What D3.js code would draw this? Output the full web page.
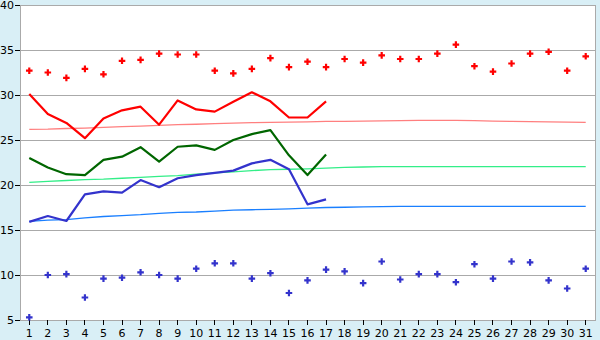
<!DOCTYPE html>
<html><head><meta charset="utf-8">
<script src="https://cdn.jsdelivr.net/npm/d3@7"></script>
<style>
html,body{margin:0;padding:0;background:#d9eff6;}
svg{display:block;font-family:"DejaVu Sans",sans-serif;}
</style></head>
<body>
<svg id="c" width="600" height="340"></svg>
<script>
const days = d3.range(1, 32);
const yTicks = [5, 10, 15, 20, 25, 30, 35, 40];

const maxPoints = [32.7,32.5,31.9,32.9,32.3,33.8,33.9,34.6,34.5,34.5,32.7,32.4,32.9,34.1,33.1,33.7,33.1,34.0,33.6,34.4,34.0,34.0,34.6,35.6,33.2,32.6,33.5,34.6,34.8,32.7,34.3];
const minPoints = [5.3,10.0,10.1,7.5,9.6,9.7,10.3,10.0,9.6,10.7,11.3,11.3,9.6,10.2,8.0,9.4,10.6,10.4,9.1,11.5,9.5,10.1,10.1,9.2,11.2,9.6,11.5,11.4,9.4,8.5,10.7];

const maxLine = [30.1,27.9,26.9,25.2,27.4,28.3,28.7,26.7,29.4,28.4,28.15,29.25,30.3,29.3,27.5,27.5,29.3];
const avgLine = [23.0,21.95,21.2,21.1,22.8,23.15,24.2,22.6,24.25,24.4,23.9,25.0,25.65,26.1,23.3,21.1,23.4];
const minLine = [15.9,16.55,16.0,18.95,19.3,19.15,20.55,19.75,20.75,21.1,21.35,21.6,22.4,22.8,21.75,17.85,18.4];

const maxNormal = [26.18,26.2,26.28,26.33,26.4,26.48,26.55,26.63,26.7,26.75,26.82,26.87,26.92,26.96,26.98,27.02,27.07,27.08,27.1,27.12,27.15,27.18,27.19,27.19,27.15,27.1,27.07,27.05,27.02,26.98,26.96];
const avgNormal = [20.3,20.4,20.5,20.6,20.65,20.75,20.85,20.95,21.05,21.2,21.35,21.45,21.6,21.7,21.75,21.8,21.87,21.95,22.0,22.04,22.04,22.04,22.04,22.04,22.04,22.04,22.04,22.04,22.04,22.04,22.04];
const minNormal = [15.95,16.1,16.15,16.35,16.5,16.6,16.7,16.85,16.95,17.0,17.1,17.2,17.25,17.3,17.35,17.42,17.5,17.53,17.57,17.6,17.63,17.63,17.63,17.63,17.63,17.63,17.63,17.63,17.63,17.63,17.63];

const L = 20, R = 595, T = 5, B = 320;
const svg = d3.select("#c");
const x = d3.scaleBand().domain(days).range([L, R]).padding(0);
const cx = d => x(d) + x.bandwidth() / 2;
const y = d3.scaleLinear().domain([5, 40]).range([B, T]);

svg.append("rect").attr("x", L).attr("y", T).attr("width", R - L).attr("height", B - T).attr("fill", "#fff");

// gridlines
svg.append("g").selectAll("line").data(yTicks).join("line")
  .attr("x1", L).attr("x2", R).attr("y1", d => y(d)).attr("y2", d => y(d))
  .attr("stroke", "#aaaaaa").attr("stroke-width", 1).attr("shape-rendering", "crispEdges");
// border
svg.append("rect").attr("x", L).attr("y", T).attr("width", R - L).attr("height", B - T)
  .attr("fill", "none").attr("stroke", "#aaaaaa").attr("shape-rendering", "crispEdges");

// y axis
const ya = svg.append("g").attr("transform", `translate(${L},0)`)
  .call(d3.axisLeft(y).tickValues(yTicks).tickSize(5).tickPadding(1));
ya.select(".domain").remove();
ya.selectAll("line").attr("stroke", "#000").attr("shape-rendering", "crispEdges");
ya.selectAll("text").attr("font-size", 11).attr("fill", "#000").attr("font-family", "DejaVu Sans");

// x axis
const xa = svg.append("g").attr("transform", `translate(0,${B})`)
  .call(d3.axisBottom(x).tickSize(5).tickPadding(4));
xa.select(".domain").remove();
xa.selectAll("line").attr("stroke", "#000").attr("shape-rendering", "crispEdges");
xa.selectAll("text").attr("font-size", 11).attr("fill", "#000").attr("font-family", "DejaVu Sans");

const line = d3.line().x((d, i) => cx(days[i])).y(d => y(d));

// normal lines
[[maxNormal, "#ff7f7f"], [avgNormal, "#33ee88"], [minNormal, "#1a7fff"]].forEach(([arr, col]) => {
  svg.append("path").datum(arr).attr("d", line).attr("fill", "none")
    .attr("stroke", col).attr("stroke-width", 1.3);
});

// observed lines
[[maxLine, "#ff0000"], [avgLine, "#006600"], [minLine, "#3333cc"]].forEach(([arr, col]) => {
  svg.append("path").datum(arr).attr("d", line).attr("fill", "none")
    .attr("stroke", col).attr("stroke-width", 2.2).attr("stroke-linejoin", "round");
});

// point markers
const cross = d3.symbol().type(d3.symbolCross).size(24);
[[maxPoints, "#ff0000"], [minPoints, "#3333cc"]].forEach(([arr, col]) => {
  svg.append("g").selectAll("path").data(arr).join("path")
    .attr("d", cross)
    .attr("transform", (d, i) => `translate(${cx(days[i])},${y(d)})`)
    .attr("fill", col);
});
</script>
</body></html>
